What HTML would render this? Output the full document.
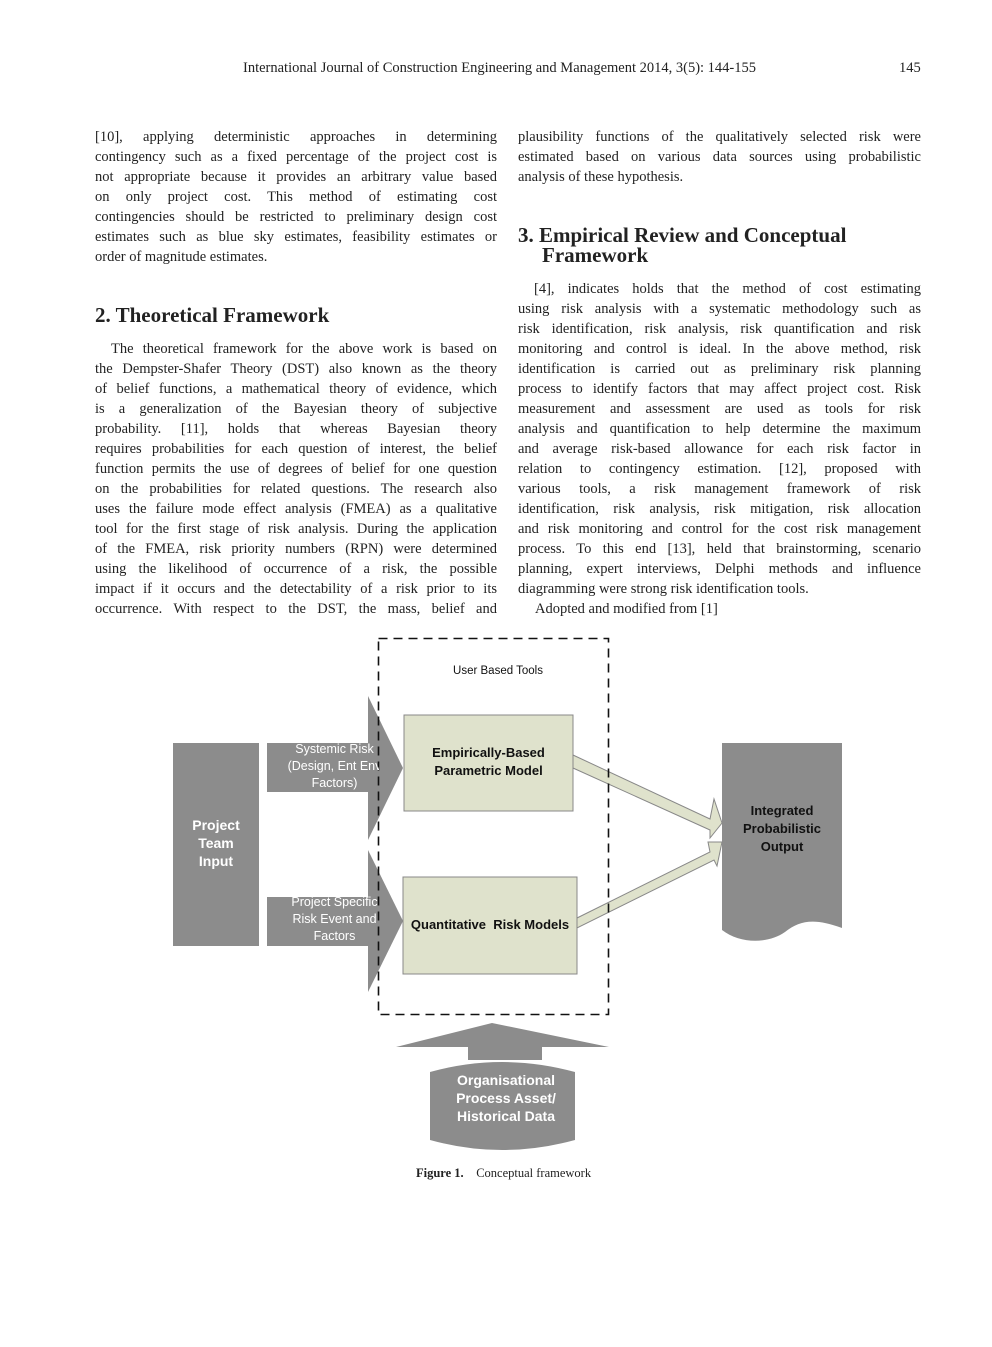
<!DOCTYPE html>
<html><head><meta charset="utf-8"><style>
body{margin:0;width:992px;height:1347px;background:#fff;position:relative;font-family:"Liberation Serif",serif;color:#222;overflow:hidden}
.l{position:absolute;font-size:14.5px;line-height:20px;white-space:nowrap;text-align:justify;text-align-last:justify}
.L{left:95px;width:402px}.R{left:518px;width:403px}
.n{text-align-last:left}
.h{position:absolute;font-size:21px;font-weight:bold;line-height:20px;white-space:nowrap}
.s{font-family:"Liberation Sans",sans-serif;font-weight:bold;position:absolute;text-align:center;font-size:13px;line-height:18px}
</style></head><body>
<div class="l" style="left:243px;top:58px;text-align-last:left">International Journal of Construction Engineering and Management 2014, 3(5): 144-155</div>
<div class="l" style="left:899px;top:58px;text-align-last:left">145</div>

<div class="l L" style="top:127px">[10], applying deterministic approaches in determining</div>
<div class="l L" style="top:147px">contingency such as a fixed percentage of the project cost is</div>
<div class="l L" style="top:167px">not appropriate because it provides an arbitrary value based</div>
<div class="l L" style="top:187px">on only project cost. This method of estimating cost</div>
<div class="l L" style="top:207px">contingencies should be restricted to preliminary design cost</div>
<div class="l L" style="top:227px">estimates such as blue sky estimates, feasibility estimates or</div>
<div class="l L n" style="top:247px">order of magnitude estimates.</div>

<div class="h" style="left:95px;top:305px">2. Theoretical Framework</div>

<div class="l L" style="top:339px;padding-left:16px;width:386px">The theoretical framework for the above work is based on</div>
<div class="l L" style="top:359px">the Dempster-Shafer Theory (DST) also known as the theory</div>
<div class="l L" style="top:379px">of belief functions, a mathematical theory of evidence, which</div>
<div class="l L" style="top:399px">is a generalization of the Bayesian theory of subjective</div>
<div class="l L" style="top:419px">probability. [11], holds that whereas Bayesian theory</div>
<div class="l L" style="top:439px">requires probabilities for each question of interest, the belief</div>
<div class="l L" style="top:459px">function permits the use of degrees of belief for one question</div>
<div class="l L" style="top:479px">on the probabilities for related questions. The research also</div>
<div class="l L" style="top:499px">uses the failure mode effect analysis (FMEA) as a qualitative</div>
<div class="l L" style="top:519px">tool for the first stage of risk analysis. During the application</div>
<div class="l L" style="top:539px">of the FMEA, risk priority numbers (RPN) were determined</div>
<div class="l L" style="top:559px">using the likelihood of occurrence of a risk, the possible</div>
<div class="l L" style="top:579px">impact if it occurs and the detectability of a risk prior to its</div>
<div class="l L" style="top:599px">occurrence. With respect to the DST, the mass, belief and</div>

<div class="l R" style="top:127px">plausibility functions of the qualitatively selected risk were</div>
<div class="l R" style="top:147px">estimated based on various data sources using probabilistic</div>
<div class="l R n" style="top:167px">analysis of these hypothesis.</div>

<div class="h" style="left:518px;top:225px">3. Empirical Review and Conceptual</div>
<div class="h" style="left:542px;top:245px">Framework</div>

<div class="l R" style="top:279px;padding-left:16px;width:387px">[4], indicates holds that the method of cost estimating</div>
<div class="l R" style="top:299px">using risk analysis with a systematic methodology such as</div>
<div class="l R" style="top:319px">risk identification, risk analysis, risk quantification and risk</div>
<div class="l R" style="top:339px">monitoring and control is ideal. In the above method, risk</div>
<div class="l R" style="top:359px">identification is carried out as preliminary risk planning</div>
<div class="l R" style="top:379px">process to identify factors that may affect project cost. Risk</div>
<div class="l R" style="top:399px">measurement and assessment are used as tools for risk</div>
<div class="l R" style="top:419px">analysis and quantification to help determine the maximum</div>
<div class="l R" style="top:439px">and average risk-based allowance for each risk factor in</div>
<div class="l R" style="top:459px">relation to contingency estimation. [12], proposed with</div>
<div class="l R" style="top:479px">various tools, a risk management framework of risk</div>
<div class="l R" style="top:499px">identification, risk analysis, risk mitigation, risk allocation</div>
<div class="l R" style="top:519px">and risk monitoring and control for the cost risk management</div>
<div class="l R" style="top:539px">process. To this end [13], held that brainstorming, scenario</div>
<div class="l R" style="top:559px">planning, expert interviews, Delphi methods and influence</div>
<div class="l R n" style="top:579px">diagramming were strong risk identification tools.</div>
<div class="l R n" style="top:599px;padding-left:17px">Adopted and modified from [1]</div>

<svg width="992" height="1347" style="position:absolute;left:0;top:0">
<g fill="#8c8c8c">
<rect x="173" y="743" width="86" height="203"/>
<rect x="267" y="743" width="105" height="49"/>
<polygon points="368,696 403,768 368,840"/>
<rect x="267" y="897" width="105" height="49"/>
<polygon points="368,850 403,921 368,992"/>
<path d="M722,743 H842 V928 C815,918 800,920 785,932 C768,944 740,944 722,930 Z"/>
<polygon points="492,1023 609,1047 542,1047 542,1060 468,1060 468,1047 396,1047"/>
<path d="M430,1072 Q502,1052 575,1072 V1140 Q502,1160 430,1140 Z"/>
</g>
<g fill="#dfe2cc" stroke="#888" stroke-width="1">
<rect x="404" y="715" width="169" height="96"/>
<rect x="403" y="877" width="174" height="97"/>
<polygon points="573,755 710,819 714,799 722,823 710,838 710,830 573,768"/>
<polygon points="577,918 710,852 708,842 722,842 717,866 714,860 577,928"/>
</g>
<rect x="378.5" y="638.5" width="230" height="376" fill="none" stroke="#111" stroke-width="1.6" stroke-dasharray="9,6"/>
</svg>

<div class="s" style="left:430px;top:662px;width:136px;font-weight:normal;font-size:11.5px;color:#111">User Based Tools</div>
<div class="s" style="left:173px;top:816px;width:86px;color:#fff;font-size:14px">Project<br>Team<br>Input</div>
<div class="s" style="left:267px;top:741px;width:135px;color:#fff;font-weight:normal;font-size:12.5px;line-height:17px;clip-path:inset(0 23px 0 0)">Systemic Risk<br>(Design, Ent Env<br>Factors)</div>
<div class="s" style="left:267px;top:894px;width:135px;color:#fff;font-weight:normal;font-size:12.5px;line-height:17px;clip-path:inset(0 23px 0 0)">Project Specific<br>Risk Event and<br>Factors</div>
<div class="s" style="left:404px;top:744px;width:169px;color:#111">Empirically-Based<br>Parametric Model</div>
<div class="s" style="left:403px;top:916px;width:174px;color:#111">Quantitative&nbsp; Risk Models</div>
<div class="s" style="left:722px;top:802px;width:120px;color:#111">Integrated<br>Probabilistic<br>Output</div>
<div class="s" style="left:430px;top:1071px;width:152px;color:#fff;font-size:14px">Organisational<br>Process Asset/<br>Historical Data</div>
<div class="l" style="left:416px;top:1163px;font-size:12.5px;text-align-last:left"><b>Figure 1.</b>&nbsp;&nbsp;&nbsp; Conceptual framework</div>
</body></html>
